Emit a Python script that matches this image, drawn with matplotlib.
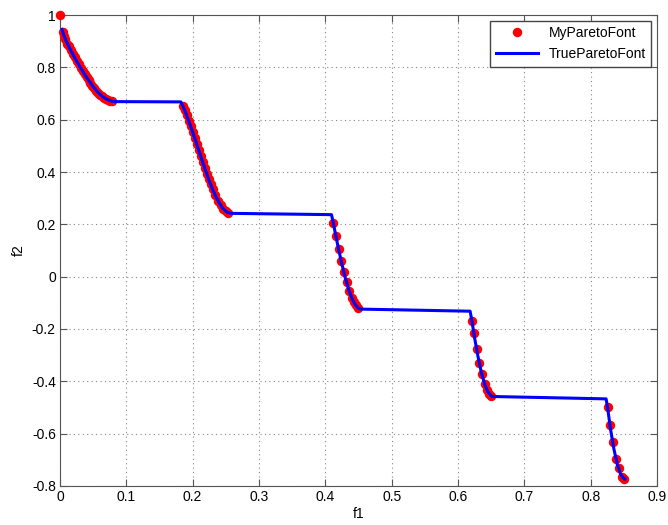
import matplotlib.pyplot as plt

plt.rcParams['font.family'] = ['Liberation Sans', 'DejaVu Sans']

# points found by the optimizer
my_f1 = [0.0, 0.004, 0.006, 0.008, 0.011, 0.013, 0.016, 0.019, 0.022, 0.025,
         0.028, 0.031, 0.034, 0.037, 0.040, 0.043, 0.046, 0.049, 0.052, 0.055,
         0.058, 0.061, 0.064, 0.067, 0.070, 0.073, 0.076, 0.079,
         0.185, 0.188, 0.191, 0.194, 0.197, 0.200, 0.203, 0.206, 0.209, 0.212,
         0.215, 0.218, 0.221, 0.224, 0.227, 0.230, 0.234, 0.238, 0.242, 0.246,
         0.250, 0.254,
         0.412, 0.416, 0.420, 0.424, 0.428, 0.432, 0.436, 0.440, 0.443, 0.446,
         0.449,
         0.621, 0.624, 0.628, 0.632, 0.636, 0.640, 0.644, 0.647, 0.650,
         0.8255, 0.829, 0.833, 0.838, 0.842, 0.847, 0.850]
my_f2 = [1.0, 0.936, 0.921, 0.909, 0.891, 0.881, 0.866, 0.852, 0.838, 0.824,
         0.811, 0.798, 0.786, 0.774, 0.762, 0.751, 0.740, 0.730, 0.720, 0.711,
         0.703, 0.696, 0.689, 0.684, 0.679, 0.675, 0.672, 0.670,
         0.654, 0.636, 0.616, 0.596, 0.575, 0.553, 0.530, 0.508, 0.484, 0.462,
         0.439, 0.416, 0.394, 0.373, 0.353, 0.334, 0.311, 0.291, 0.274, 0.260,
         0.250, 0.244,
         0.206, 0.155, 0.105, 0.059, 0.016, -0.022, -0.055, -0.082, -0.098, -0.110,
         -0.119,
         -0.169, -0.217, -0.276, -0.329, -0.373, -0.409, -0.435, -0.449, -0.456,
         -0.500, -0.565, -0.630, -0.695, -0.733, -0.764, -0.772]

# true front
true_f1 = [0.003, 0.006, 0.010, 0.016, 0.020, 0.025, 0.030, 0.035, 0.040, 0.045,
           0.050, 0.055, 0.060, 0.065, 0.070, 0.075, 0.080, 0.083,
           0.1822, 0.185, 0.190, 0.195, 0.200, 0.205, 0.210, 0.215, 0.220, 0.225,
           0.230, 0.235, 0.240, 0.245, 0.250, 0.254, 0.2578,
           0.4093, 0.412, 0.415, 0.420, 0.425, 0.430, 0.435, 0.440, 0.445, 0.450,
           0.4539,
           0.6183, 0.621, 0.625, 0.630, 0.635, 0.640, 0.645, 0.650, 0.6525,
           0.8233, 0.8255, 0.830, 0.835, 0.840, 0.845, 0.850, 0.8518]
true_f2 = [0.945, 0.921, 0.897, 0.866, 0.847, 0.824, 0.8025, 0.782, 0.762, 0.744,
           0.726, 0.711, 0.698, 0.687, 0.679, 0.673, 0.670, 0.669,
           0.668, 0.654, 0.623, 0.589, 0.553, 0.515, 0.477, 0.439, 0.402, 0.366,
           0.334, 0.306, 0.282, 0.263, 0.250, 0.244, 0.242,
           0.237, 0.206, 0.167, 0.105, 0.048, -0.004, -0.047, -0.082, -0.107, -0.121,
           -0.124,
           -0.132, -0.169, -0.233, -0.303, -0.363, -0.409, -0.440, -0.456, -0.458,
           -0.467, -0.500, -0.583, -0.658, -0.715, -0.754, -0.772, -0.773]

fig = plt.figure(figsize=(6.68, 5.25), dpi=100)
ax = fig.add_axes([0.0898, 0.0743, 0.8937, 0.8971])

ax.plot(my_f1, my_f2, 'o', color='red', markersize=6.8, markeredgewidth=0,
        label='MyParetoFont', clip_on=False, zorder=3)
ax.plot(true_f1, true_f2, '-', color='blue', linewidth=2.2, label='TrueParetoFont',
        zorder=4)

ax.set_xlim(0, 0.9)
ax.set_ylim(-0.8, 1)
ax.set_xticks([0, 0.1, 0.2, 0.3, 0.4, 0.5, 0.6, 0.7, 0.8, 0.9])
ax.set_xticklabels(['0', '0.1', '0.2', '0.3', '0.4', '0.5', '0.6', '0.7', '0.8', '0.9'])
ax.set_yticks([-0.8, -0.6, -0.4, -0.2, 0, 0.2, 0.4, 0.6, 0.8, 1])
ax.set_yticklabels(['-0.8', '-0.6', '-0.4', '-0.2', '0', '0.2', '0.4', '0.6', '0.8', '1'])
ax.grid(True, linestyle=(0, (1, 3)), color='#888888', linewidth=0.8)
ax.tick_params(direction='in', top=True, right=True, length=5, labelsize=10,
               color='#555555', pad=3)
for s in ax.spines.values():
    s.set_color('#555555')

ax.set_xlabel('f1', fontsize=10, labelpad=2)
ax.set_ylabel('f2', fontsize=10, labelpad=4)

ax.legend(loc='upper right', fancybox=False, edgecolor='#444444', framealpha=1,
          fontsize=10, numpoints=1, borderaxespad=0.4, handlelength=3)

fig.savefig('out.png', dpi=100)
